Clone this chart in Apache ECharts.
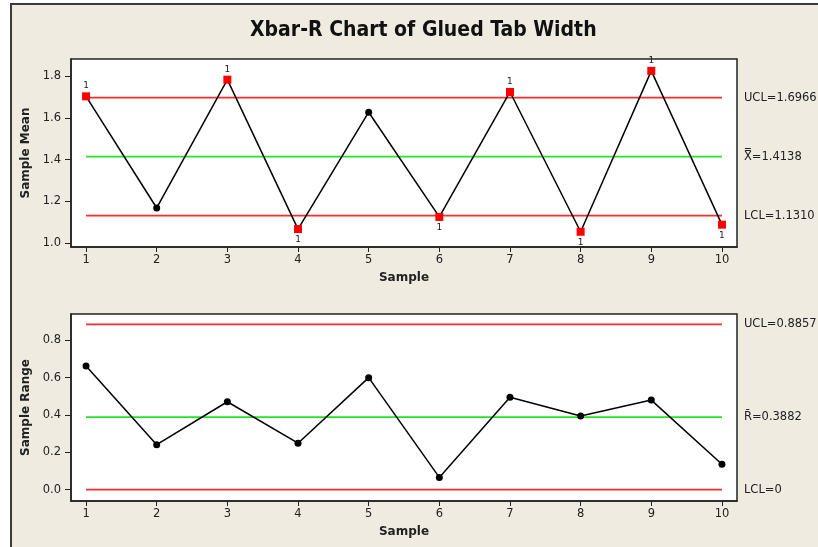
<!DOCTYPE html>
<html>
<head>
<meta charset="utf-8">
<title>Xbar-R Chart of Glued Tab Width</title>
<script src="https://cdn.jsdelivr.net/npm/echarts@6/dist/echarts.min.js"></script>
<style>
  html, body { margin: 0; padding: 0; background: #ffffff; }
  #wrap { position: relative; width: 818px; height: 547px; overflow: hidden; }
  #panel { position: absolute; left: 10px; top: 3px; width: 820px; height: 560px;
           background: #efebe1; border-left: 2px solid #3a3a3a; border-top: 2px solid #3a3a3a; box-sizing: border-box; }
  #chart { position: absolute; left: 0; top: 0; width: 818px; height: 547px; }
</style>
</head>
<body>
<div id="wrap">
  <div id="panel"></div>
  <div id="chart"></div>
</div>
<script>
// Subgroup numbers
const samples = [1, 2, 3, 4, 5, 6, 7, 8, 9, 10];
// Subgroup means and ranges
const sampleMeans = [1.703, 1.168, 1.783, 1.067, 1.627, 1.125, 1.724, 1.054, 1.825, 1.088];
const sampleRanges = [0.662, 0.241, 0.471, 0.249, 0.600, 0.066, 0.495, 0.395, 0.480, 0.136];
// Control limits
const meanUCL = 1.6966, meanCL = 1.4138, meanLCL = 1.1310;
const rangeUCL = 0.8857, rangeCL = 0.3882, rangeLCL = 0;
// Tick labels
const meanTicks = [1.0, 1.2, 1.4, 1.6, 1.8];
const rangeTicks = [0.0, 0.2, 0.4, 0.6, 0.8];

const FONT = 'DejaVu Sans';
const INK = '#222222';
const RED = '#ff2a2a';
const GREEN = '#22e622';

const chart = echarts.init(document.getElementById('chart'), null, { renderer: 'canvas' });

function xAxisFor(gridIndex) {
  return {
    type: 'value', gridIndex, min: 0.787, max: 10.213,
    name: 'Sample', nameLocation: 'middle', nameGap: 25,
    nameTextStyle: { fontFamily: FONT, fontWeight: 'bold', fontSize: 12, color: INK },
    axisLine: { show: true, onZero: false, lineStyle: { color: INK, width: 1.5 } },
    axisTick: { show: true, length: 5, customValues: samples, lineStyle: { color: INK, width: 1 } },
    axisLabel: { customValues: samples, margin: 7, fontFamily: FONT, fontSize: 11.5, color: INK },
    splitLine: { show: false }
  };
}

function yAxisFor(gridIndex, name, min, max, ticks) {
  return {
    type: 'value', gridIndex, min, max,
    name, nameLocation: 'middle', nameGap: 38, nameRotate: 90,
    nameTextStyle: { fontFamily: FONT, fontWeight: 'bold', fontSize: 12, color: INK },
    axisLine: { show: true, onZero: false, lineStyle: { color: INK, width: 1.5 } },
    axisTick: { show: true, length: 6, customValues: ticks, lineStyle: { color: INK, width: 1 } },
    axisLabel: { customValues: ticks, margin: 10, fontFamily: FONT, fontSize: 11.5, color: INK,
                 formatter: v => Number(v).toFixed(1) },
    splitLine: { show: false }
  };
}

function limitLine(axisIdx, value, color, text) {
  return {
    type: 'line', xAxisIndex: axisIdx, yAxisIndex: axisIdx,
    data: [[samples[0], value], [samples[samples.length - 1], value]],
    symbol: 'none', silent: true, animation: false,
    lineStyle: { color, width: 1.8 },
    endLabel: { show: true, formatter: text, distance: 22, color: INK,
                fontFamily: FONT, fontSize: 11.5 },
    z: 2
  };
}

// Points beyond the limits get a red square and the test number "1"
function pointData(values, lcl, ucl) {
  return values.map((v, i) => {
    const item = { value: [samples[i], v] };
    if (v > ucl || v < lcl) {
      item.symbol = 'rect';
      item.symbolSize = 8;
      item.itemStyle = { color: '#ff0000' };
      item.label = { show: true, formatter: '1', position: v > ucl ? 'top' : 'bottom',
                     distance: 2, fontFamily: FONT, fontSize: 9, color: INK };
    }
    return item;
  });
}

function pointSeries(axisIdx, values, lcl, ucl) {
  return {
    type: 'line', xAxisIndex: axisIdx, yAxisIndex: axisIdx,
    data: pointData(values, lcl, ucl),
    symbol: 'circle', symbolSize: 7, showAllSymbol: true,
    itemStyle: { color: '#000000' },
    lineStyle: { color: '#000000', width: 1.5 },
    label: { show: false },
    animation: false, z: 3
  };
}

chart.setOption({
  backgroundColor: 'transparent',
  animation: false,
  title: {
    text: 'Xbar-R Chart of Glued Tab Width',
    left: 245, top: 15,
    textStyle: { fontFamily: 'DejaVu Sans Condensed, Liberation Sans, sans-serif', fontWeight: 'bold',
                 fontSize: 21, color: '#111111' }
  },
  grid: [
    { left: 71, right: 81, top: 59, height: 188, show: true, backgroundColor: '#ffffff',
      borderColor: INK, borderWidth: 1.5 },
    { left: 71, right: 81, top: 314, height: 187, show: true, backgroundColor: '#ffffff',
      borderColor: INK, borderWidth: 1.5 }
  ],
  xAxis: [xAxisFor(0), xAxisFor(1)],
  yAxis: [
    yAxisFor(0, 'Sample Mean', 0.981, 1.882, meanTicks),
    yAxisFor(1, 'Sample Range', -0.0605, 0.941, rangeTicks)
  ],
  series: [
    limitLine(0, meanUCL, RED, 'UCL=' + meanUCL.toFixed(4)),
    limitLine(0, meanCL, GREEN, 'X\u033F=' + meanCL.toFixed(4)),
    limitLine(0, meanLCL, RED, 'LCL=' + meanLCL.toFixed(4)),
    pointSeries(0, sampleMeans, meanLCL, meanUCL),
    limitLine(1, rangeUCL, RED, 'UCL=' + rangeUCL.toFixed(4)),
    limitLine(1, rangeCL, GREEN, 'R\u0304=' + rangeCL.toFixed(4)),
    limitLine(1, rangeLCL, RED, 'LCL=' + rangeLCL),
    pointSeries(1, sampleRanges, rangeLCL, rangeUCL)
  ]
});
</script>
</body>
</html>
